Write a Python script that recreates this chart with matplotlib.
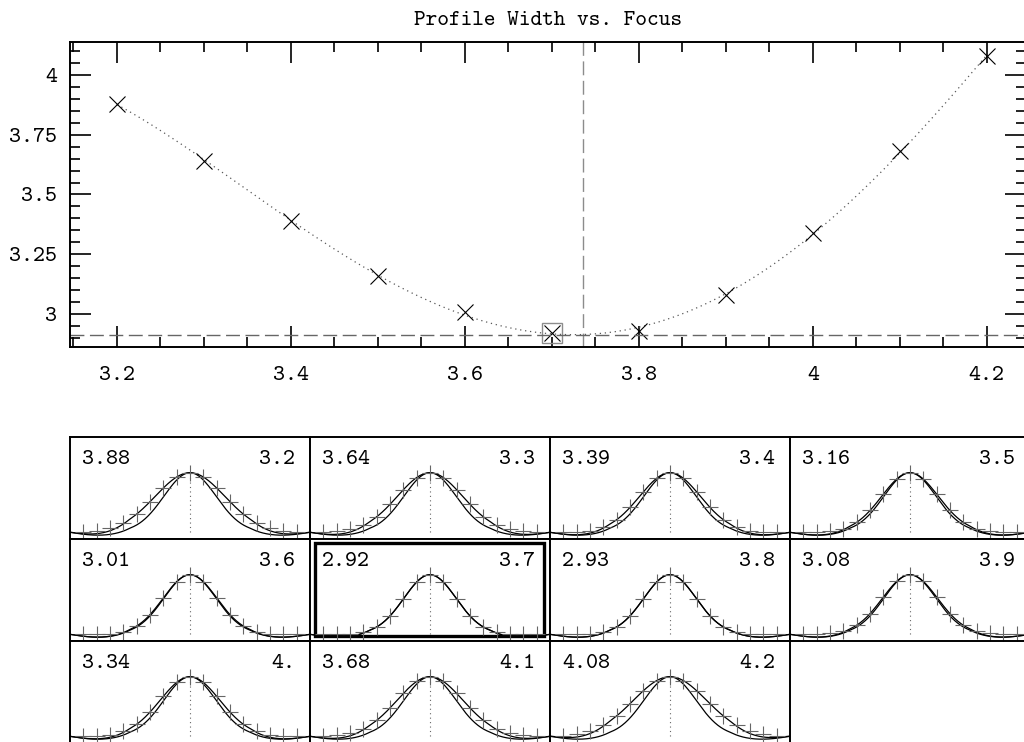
import numpy as np
import matplotlib
matplotlib.use("Agg")
import matplotlib.pyplot as plt
from matplotlib.patches import Rectangle
from matplotlib.ticker import MultipleLocator

plt.rcParams['font.family'] = ['cmtt10', 'DejaVu Sans']

# focus positions and measured profile widths
focus = [3.2, 3.3, 3.4, 3.5, 3.6, 3.7, 3.8, 3.9, 4.0, 4.1, 4.2]
width = [3.88, 3.64, 3.39, 3.16, 3.01, 2.92, 2.93, 3.08, 3.34, 3.68, 4.08]
focus_labels = ['3.2', '3.3', '3.4', '3.5', '3.6', '3.7', '3.8', '3.9', '4.', '4.1', '4.2']
best_focus = 3.736
best_width = 2.912
best_index = 5

fig = plt.figure(figsize=(10.24, 7.42), dpi=100)

# ---- top plot: width vs focus
W, H = 1024.0, 742.0
ax = fig.add_axes([70 / W, 1 - 347 / H, (1026 - 70) / W, (347 - 42) / H])
ax.set_xlim(3.146, 4.245)
ax.set_ylim(2.862, 4.138)

coef = np.polyfit(focus, width, 4)
xf = np.linspace(focus[0], focus[-1], 300)
ax.plot(xf, np.polyval(coef, xf), ls=(0, (1, 3)), color='0.35', lw=0.9)
ax.plot(focus, width, 'x', color='black', ms=11.5, mew=0.8)
ax.plot([focus[best_index]], [width[best_index]], 's', mfc='none', mec='0.55', ms=15, mew=1.0)
ax.axvline(best_focus, color='0.55', ls=(0, (10, 4)), lw=1.0)
ax.axhline(best_width, color='0.4', ls=(0, (10, 4)), lw=1.0)

ax.xaxis.set_major_locator(MultipleLocator(0.2))
ax.xaxis.set_minor_locator(MultipleLocator(0.05))
ax.yaxis.set_major_locator(MultipleLocator(0.25))
ax.yaxis.set_minor_locator(MultipleLocator(0.05))
ax.xaxis.set_major_formatter(plt.FuncFormatter(lambda v, p: ('%g' % round(v, 2))))
ax.yaxis.set_major_formatter(plt.FuncFormatter(lambda v, p: ('%g' % round(v, 2))))
ax.tick_params(which='both', direction='in', top=True, right=True, width=1.2, labelsize=16.5)
ax.tick_params(which='major', length=15)
ax.tick_params(axis='x', which='major', pad=14)
ax.tick_params(axis='y', which='major', pad=9)
ax.tick_params(which='minor', length=7.5)
for s in ax.spines.values():
    s.set_linewidth(1.4)
ax.set_title('Profile Width vs. Focus', fontsize=16, pad=12)

# ---- lower grid of profiles
xs = np.arange(-8, 9)
xc = np.linspace(-9, 9, 400)
k = 0.67


def profile(x, w):
    s = w * k
    g = np.exp(-x ** 2 / (2 * s ** 2))
    a = np.abs(x)
    ripple = np.where(a > 4.5, -0.05 * np.sin(np.pi * (a - 4.5) / 4.5), 0.0)
    return g + ripple


col_w, row_h = 240.0, 102.0
x0, y0 = 70.0, 437.0
for i, (w, lab) in enumerate(zip(width, focus_labels)):
    r, c = divmod(i, 4)
    left = x0 + c * col_w
    top = y0 + r * row_h
    pa = fig.add_axes([left / W, 1 - (top + row_h) / H, col_w / W, row_h / H])
    pa.set_xlim(-9, 9)
    pa.set_ylim(-0.112, 1.6)
    pa.plot(xc, profile(xc, best_width + 0.008), color='black', lw=0.9)
    pa.plot(xc, profile(xc, w), color='black', lw=0.9)
    pa.plot(xs, np.exp(-xs ** 2 / (2 * (w * k) ** 2)), '+', color='0.4', ms=11, mew=0.8)
    pa.plot([0, 0], [0, 1], ls=(0, (1, 3)), color='0.4', lw=0.8)
    pa.text(12 / col_w, 1 - 23 / row_h, '%.2f' % w, transform=pa.transAxes,
            fontsize=16.5, ha='left', va='center')
    pa.text(1 - 15 / col_w, 1 - 23 / row_h, lab, transform=pa.transAxes,
            fontsize=16.5, ha='right', va='center')
    pa.set_xticks([])
    pa.set_yticks([])
    for s in pa.spines.values():
        s.set_linewidth(1.4)
    if i == best_index:
        pa.add_patch(Rectangle((5 / col_w, 5 / row_h), 1 - 11 / col_w, 1 - 9 / row_h,
                               transform=pa.transAxes, fill=False, lw=2.4,
                               ec='black', clip_on=False))

fig.savefig('out.png', dpi=100)
